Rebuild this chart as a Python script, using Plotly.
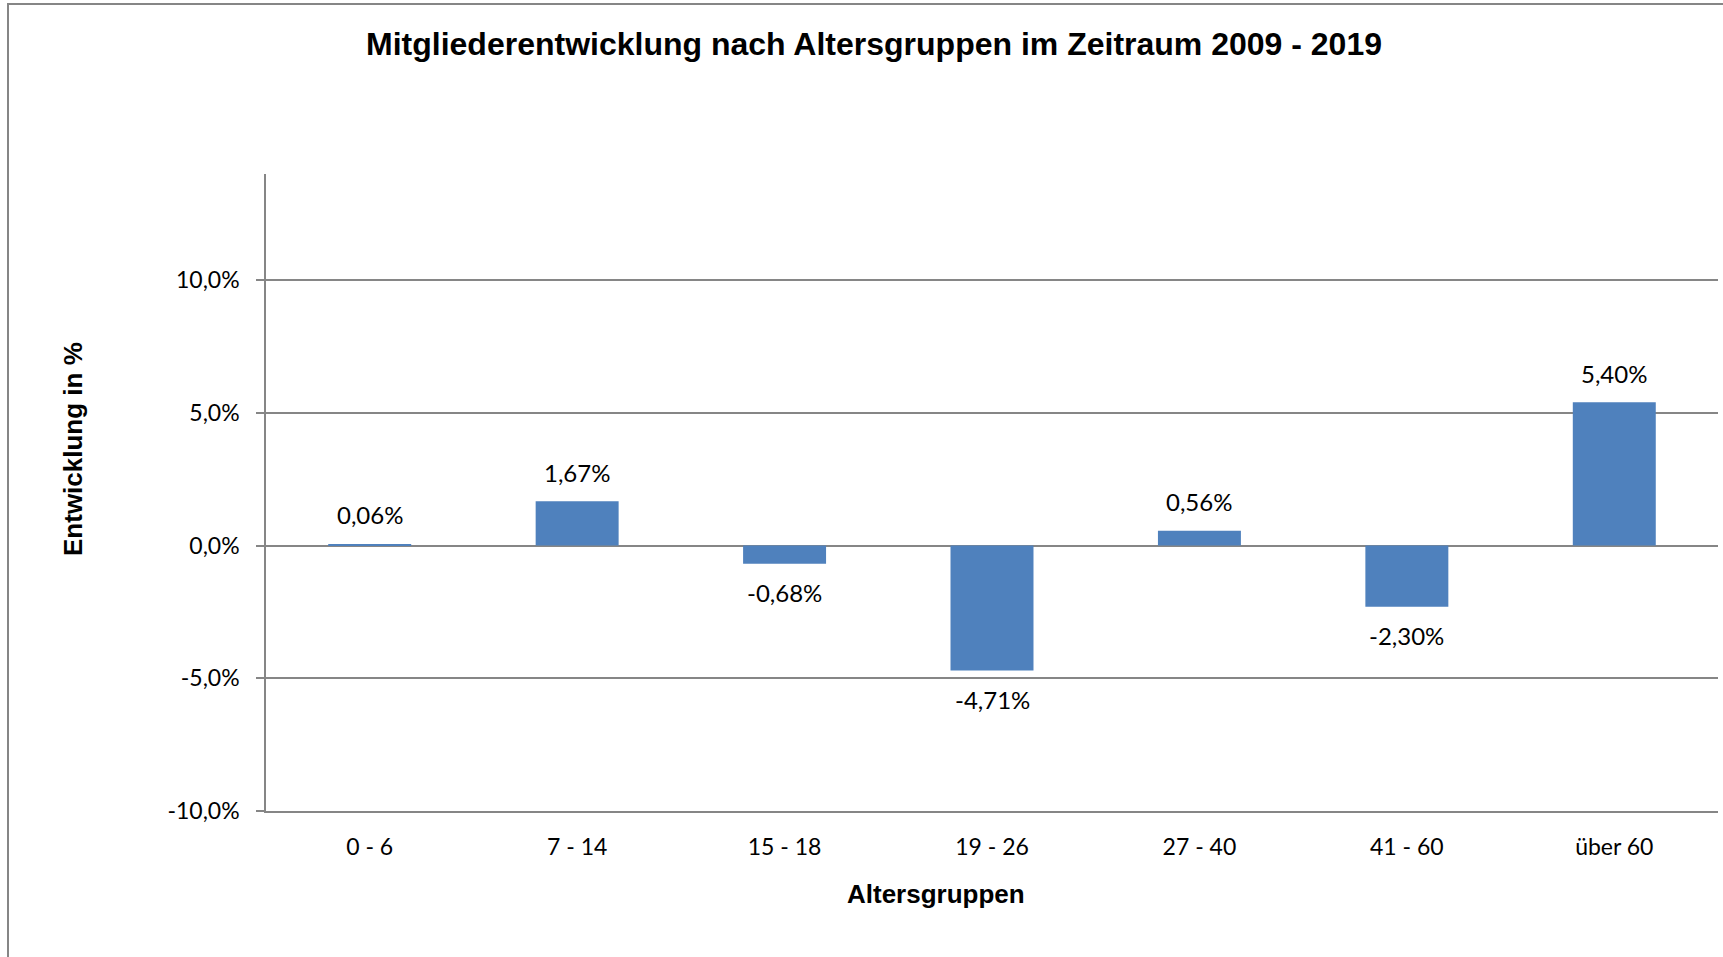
import plotly.graph_objects as go

categories = ["0 - 6", "7 - 14", "15 - 18", "19 - 26", "27 - 40", "41 - 60", "über 60"]
values = [0.06, 1.67, -0.68, -4.71, 0.56, -2.30, 5.40]
y_tickvals = [-10, -5, 0, 5, 10]
y_ticktext = ["-10,0%", "-5,0%", "0,0%", "5,0%", "10,0%"]

W, H = 1723, 957
L, R, T, B = 266, 5, 174, 146
GRAY = "#868686"
BAR = "#4F81BD"

labels = [f"{v:.2f}".replace(".", ",") + "%" for v in values]

fig = go.Figure()
fig.add_trace(go.Bar(
    x=categories, y=values, width=0.4,
    marker=dict(color=BAR, line=dict(width=0)),
    hoverinfo="skip",
))

for c, v, t in zip(categories, values, labels):
    fig.add_annotation(
        x=c, y=v, text=t, showarrow=False, xanchor="center", yanchor="middle",
        yshift=29 if v >= 0 else -29,
        font=dict(family="Lato", size=24, color="#000000"),
    )

pw, ph = W - L - R, H - T - B

def px_x(p):
    return (p - L) / pw

def px_y(p):
    return (H - B - p) / ph

# axis titles (placed as in the reference, off-centre)
fig.add_annotation(
    xref="paper", yref="paper", x=px_x(73), y=px_y(449), text="<b>Entwicklung in %</b>",
    textangle=-90, showarrow=False, xanchor="center", yanchor="middle",
    font=dict(family="Liberation Sans, Arial", size=26, color="#000000"),
)
fig.add_annotation(
    xref="paper", yref="paper", x=px_x(936), y=px_y(894), text="<b>Altersgruppen</b>",
    showarrow=False, xanchor="center", yanchor="middle",
    font=dict(family="Liberation Sans, Arial", size=26, color="#000000"),
)

ymin, ymax = -10, 14
fig.update_layout(
    width=W, height=H,
    margin=dict(l=L, r=R, t=T, b=B, pad=0),
    paper_bgcolor="white", plot_bgcolor="white",
    showlegend=False,
    title=dict(
        text="<b>Mitgliederentwicklung nach Altersgruppen im Zeitraum 2009 - 2019</b>",
        font=dict(family="Liberation Sans, Arial", size=32, color="#000000"),
        x=874 / W, xanchor="center", y=1 - 44 / H, yanchor="middle", yref="container",
    ),
    xaxis=dict(
        type="category", range=[-0.5, 6.5], showgrid=False,
        showline=True, linecolor=GRAY, linewidth=1.5,
        ticks="", zeroline=False,
        tickfont=dict(family="Lato", size=23, color="#000000"),
        ticklabelstandoff=15,
    ),
    xaxis2=dict(
        overlaying="x", anchor="free", position=(0 - ymin) / (ymax - ymin),
        range=[-0.5, 6.5], showline=True, linecolor=GRAY, linewidth=1.5,
        showgrid=False, zeroline=False, ticks="outside", ticklen=8,
        tickcolor=GRAY, tickwidth=1.5,
        tickvals=[0.5, 1.5, 2.5, 3.5, 4.5, 5.5, 6.5], showticklabels=False,
    ),
    yaxis=dict(
        range=[ymin, ymax], tickvals=y_tickvals, ticktext=y_ticktext,
        showline=True, linecolor=GRAY, linewidth=1.5,
        showgrid=True, gridcolor=GRAY, gridwidth=1.5,
        zeroline=False, ticks="outside", ticklen=8, tickcolor=GRAY, tickwidth=1.5,
        tickfont=dict(family="Lato", size=23, color="#000000"),
        ticklabelstandoff=12,
    ),
)

# outer chart border (left and top visible)
fig.add_shape(type="rect", xref="paper", yref="paper",
              x0=px_x(8), x1=px_x(1740), y0=px_y(980), y1=px_y(4),
              line=dict(color=GRAY, width=2), fillcolor="rgba(0,0,0,0)", layer="below")

fig.write_html("out.html", config={"displayModeBar": False},
               post_script="document.body.style.margin='0';")
